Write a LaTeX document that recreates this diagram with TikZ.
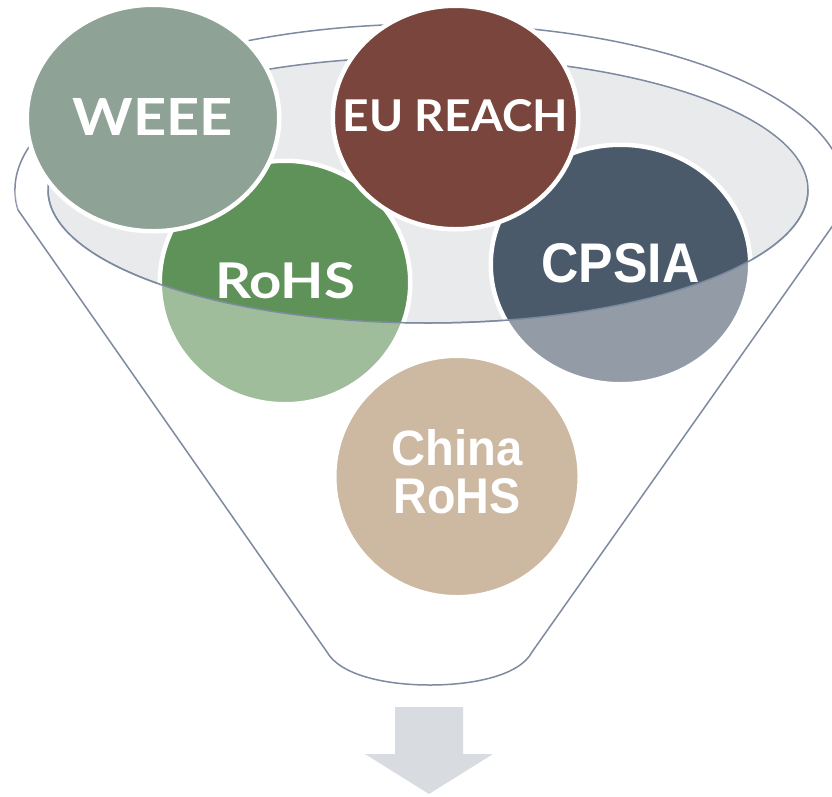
\documentclass[tikz,border=0pt]{standalone}
\usepackage{fontspec}
\usepackage{graphicx}
\usetikzlibrary{shapes.geometric}
\newfontfamily\humfont{Lato}
\newfontfamily\arialfont{Liberation Sans}
\definecolor{linec}{HTML}{7D8AA0}
\definecolor{innerc}{HTML}{E9EAEC}
\definecolor{weeec}{HTML}{8FA296}
\definecolor{reachc}{HTML}{79453C}
\definecolor{rohsc}{HTML}{5F9259}
\definecolor{cpsiac}{HTML}{4B5A6B}
\definecolor{chinac}{HTML}{AC8A64}
\definecolor{arrowc}{HTML}{D8DBDF}
\begin{document}
\begin{tikzpicture}[x=1pt,y=-1pt,
  bubble/.style={ellipse, draw=white, line width=4.5pt, inner sep=0pt},
  bubbletext/.style={inner sep=0pt, text=white, align=center},
  funnelline/.style={draw=linec, line width=1.5pt}]
\useasboundingbox (0,0) rectangle (832,796);
% key points of the funnel
\coordinate (ol) at (18,209.9);
\coordinate (or) at (840.2,215.1);
\coordinate (il) at (48,190);
\coordinate (oe) at (845,190);
\coordinate (bl) at (327,652);
\coordinate (br) at (532,652);
\coordinate (bm) at (430,685);
% outer rim (behind)
\draw[funnelline] (ol) arc[start angle=173.1, end angle=368.7, x radius=415, y radius=166];
% inner opening
\path[fill=innerc, draw=linec, line width=1.5pt] (428,190) ellipse[x radius=380, y radius=133];
% bubbles
\node[bubble, fill=rohsc, minimum width=250.5pt, minimum height=243.5pt] (rohs) at (285,282.5) {};
\node[bubbletext] (rohstxt) at ([yshift=2pt]rohs.center) {\resizebox{140pt}{36pt}{\humfont\bfseries RoHS}};
\node[bubble, fill=cpsiac, minimum width=259.5pt, minimum height=239.5pt] (cpsia) at (620.5,264.5) {};
\node[bubbletext] (cpsiatxt) at ([yshift=1.5pt]cpsia.center) {\resizebox{158pt}{39pt}{\arialfont\bfseries CPSIA}};
\node[bubble, fill=chinac, minimum width=245.5pt, minimum height=241.5pt] (china) at (457,476.5) {};
\node[bubbletext, font=\fontsize{40}{48}\selectfont] (chinatxt) at ([yshift=5pt]china.center)
  {\resizebox{131pt}{36pt}{\arialfont\bfseries China}\\\resizebox{127pt}{35pt}{\arialfont\bfseries RoHS}};
\node[bubble, fill=weeec, minimum width=252.5pt, minimum height=226.5pt] (weee) at (153,118) {};
\node[bubbletext] (weeetxt) at ([yshift=1.5pt]weee.center) {\resizebox{160pt}{37pt}{\humfont\bfseries WEEE}};
\node[bubble, fill=reachc, minimum width=245.5pt, minimum height=223.5pt] (reach) at (455.5,117.5) {};
\node[bubbletext] (reachtxt) at ([yshift=1.5pt]reach.center) {\resizebox{225pt}{32pt}{\humfont\bfseries EU REACH}};
% front of the funnel: translucent white
\fill[white, fill opacity=0.4] (il) arc[start angle=180, end angle=0, x radius=380, y radius=133]
  -- (oe) arc[start angle=0, end angle=8.7, x radius=415, y radius=166]
  -- (br) .. controls (520,675) and (475,685) .. (bm) .. controls (385,685) and (340,675) .. (bl)
  -- (ol) arc[start angle=173.1, end angle=180, x radius=415, y radius=166] -- cycle;
\draw[funnelline] (il) arc[start angle=180, end angle=0, x radius=380, y radius=133];
\draw[funnelline] (ol) -- (bl) .. controls (340,675) and (385,685) .. (bm)
  .. controls (475,685) and (520,675) .. (br) -- (or);
% arrow
\coordinate (a1) at (395,707);
\coordinate (a2) at (463,707);
\coordinate (a3) at (463,754);
\coordinate (a4) at (493,754);
\coordinate (a5) at (429,794);
\coordinate (a6) at (365,754);
\coordinate (a7) at (395,754);
\fill[arrowc] (a1) -- (a2) -- (a3) -- (a4) -- (a5) -- (a6) -- (a7) -- cycle;
\end{tikzpicture}
\end{document}
